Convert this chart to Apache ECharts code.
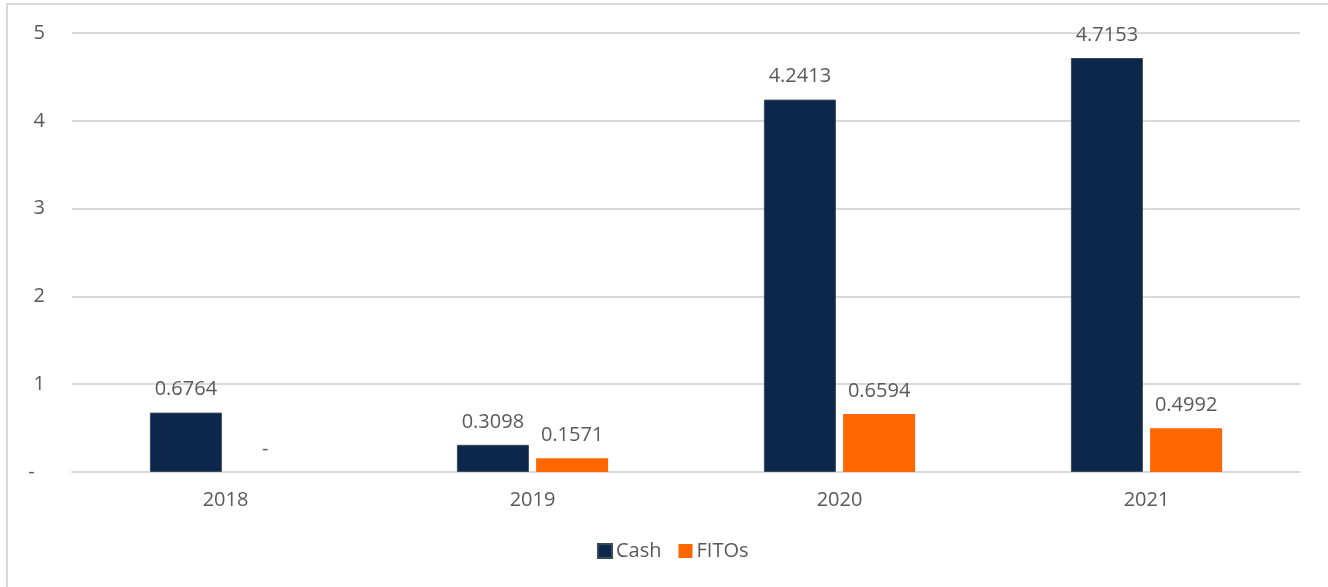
<!DOCTYPE html>
<html>
<head>
<meta charset="utf-8">
<script src="https://cdn.jsdelivr.net/npm/echarts@6/dist/echarts.min.js"></script>
<style>
html,body{margin:0;padding:0;background:#fff;}
#chart{width:1328px;height:587px;}
</style>
</head>
<body>
<div id="chart"></div>
<script>
const categories = ['2018', '2019', '2020', '2021'];
const cashValues = [0.6764, 0.3098, 4.2413, 4.7153];
const fitosValues = [0, 0.1571, 0.6594, 0.4992];
const seriesNames = ['Cash', 'FITOs'];

const fontFam = '"Open Sans", "Noto Sans", sans-serif';
const fs = 20;
const chart = echarts.init(document.getElementById('chart'));
const labelFmt = p => p.value === 0 ? '-' : p.value.toFixed(4);
chart.setOption({
  animation: false,
  graphic: [{
    type: 'rect',
    shape: { x: 7, y: 4, width: 1400, height: 700 },
    style: { fill: 'none', stroke: '#d9d9d9', lineWidth: 2 },
    silent: true
  }],
  grid: { left: 72, right: 28, top: 33, bottom: 115, containLabel: false },
  legend: {
    bottom: 21,
    left: 592,
    itemWidth: 14,
    itemHeight: 14,
    itemGap: 17,
    icon: 'rect',
    textStyle: { fontFamily: fontFam, fontSize: fs, color: '#595959', padding: [0, 0, 0, -1] },
    data: seriesNames
  },
  xAxis: {
    type: 'category',
    data: categories,
    axisLine: { lineStyle: { color: '#d9d9d9', width: 2 } },
    axisTick: { show: false },
    axisLabel: { fontFamily: fontFam, fontSize: fs, color: '#595959', margin: 18 }
  },
  yAxis: {
    type: 'value',
    min: 0,
    max: 5,
    interval: 1,
    axisLine: { show: false },
    axisTick: { show: false },
    splitLine: { lineStyle: { color: '#d9d9d9', width: 2 } },
    axisLabel: {
      fontFamily: fontFam, fontSize: fs, color: '#595959', margin: 27,
      formatter: v => v === 0 ? '-  ' : String(v)
    }
  },
  series: [
    {
      name: seriesNames[0],
      type: 'bar',
      data: cashValues,
      barWidth: 72,
      barGap: '10%',
      itemStyle: { color: '#0c2749', borderColor: '#3a4a5e', borderWidth: 1 },
      label: {
        show: true, position: 'top', distance: 13,
        fontFamily: fontFam, fontSize: fs, color: '#595959',
        formatter: labelFmt
      }
    },
    {
      name: seriesNames[1],
      type: 'bar',
      data: fitosValues,
      barWidth: 72,
      itemStyle: { color: '#ff6600' },
      label: {
        show: true, position: 'top', distance: 13,
        fontFamily: fontFam, fontSize: fs, color: '#595959',
        formatter: labelFmt
      }
    }
  ]
});
</script>
</body>
</html>
